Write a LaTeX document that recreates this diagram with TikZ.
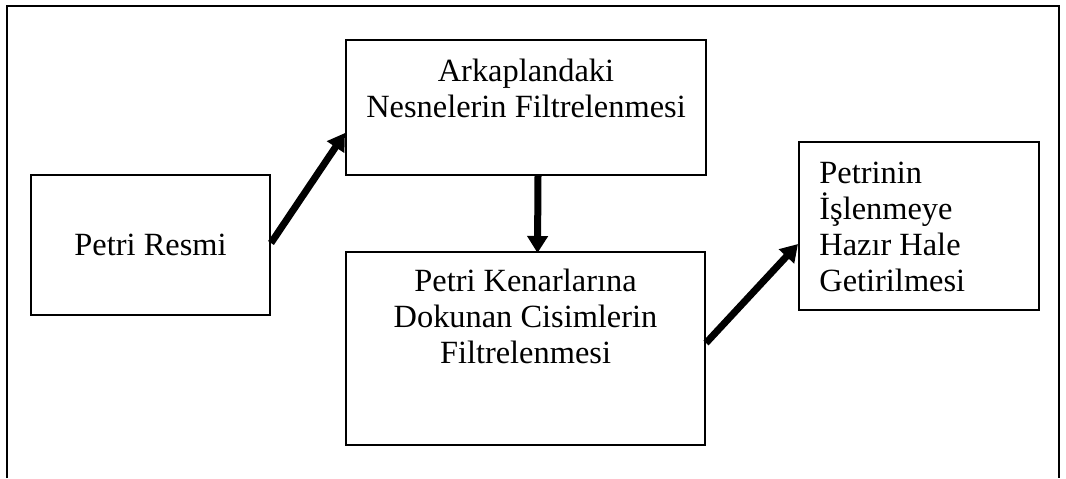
\documentclass[tikz,border=0pt]{standalone}
\usepackage{fontspec}
\setmainfont{Liberation Serif}
\usetikzlibrary{positioning, arrows.meta, calc}

\begin{document}
\begin{tikzpicture}[ x = 0.5pt, y = -0.5pt
                     , font = \fontsize{16.2}{18}\selectfont
                     , >={Triangle[width=10pt, length=8.5pt]}
                     , box/.style = { rectangle
                                    , draw = black
                                    , line width = 1pt
                                    , inner sep = 0pt }
                     , boxtext/.style = { inner sep = 0pt, align = center }
                     , flow/.style = { ->, line width = 3.5pt }
                     ]

  \useasboundingbox (0,0) rectangle (1066,478);

  % outer frame, open at the bottom
  \draw[line width = 1pt] (7,478) -- (7,6) -- (1059,6) -- (1059,478);

  \node (resim) [box, minimum width = 119.5pt, minimum height = 70pt]
    at (150.5,245) {Petri Resmi};
  \node (arka) [box, minimum width = 180pt, minimum height = 67.5pt]
    at (526,107.5) {};
  \node (kenar) [box, minimum width = 179.5pt, minimum height = 96.5pt]
    at (525.5,348.5) {};
  \node (hazir) [box, minimum width = 120pt, minimum height = 84pt]
    at (919,226) {};

  \node (arkatxt) [boxtext, below = 10pt of arka.north]
    {Arkaplandaki\\ Nesnelerin Filtrelenmesi};
  \node (kenartxt) [boxtext, below = 9pt of kenar.north]
    {Petri Kenarlarına\\ Dokunan Cisimlerin\\ Filtrelenmesi};
  \node (hazirtxt) [boxtext, align = left, below right = 10.5pt and 10.5pt of hazir.north west]
    {Petrinin\\ İşlenmeye\\ Hazır Hale\\ Getirilmesi};

  \draw[flow] ([yshift=1pt]resim.east) -- ([yshift=-12.75pt]arka.west);
  \draw[flow] ([xshift=6pt]arka.south) -- ([xshift=6pt, yshift=-1pt]kenar.north);
  \draw[flow] ([yshift=2.75pt]kenar.east) -- ([yshift=-9pt]hazir.west);

\end{tikzpicture}
\end{document}
